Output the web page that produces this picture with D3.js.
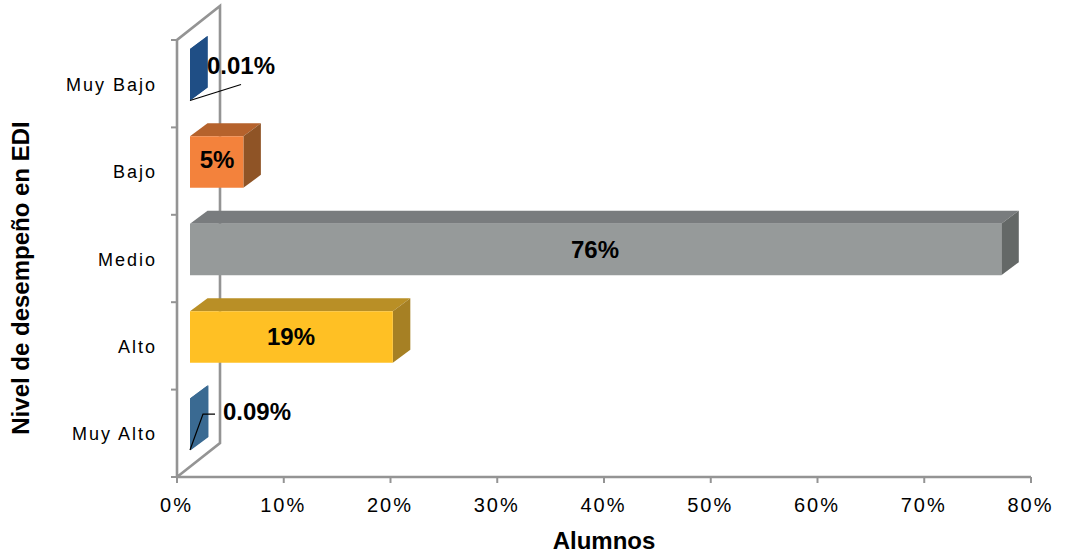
<!DOCTYPE html>
<html><head><meta charset="utf-8">
<script src="https://d3js.org/d3.v7.min.js"></script>
<style>html,body{margin:0;padding:0;background:#fff}svg{display:block}text{font-family:"Liberation Sans",Arial,sans-serif;fill:#000}</style>
</head><body><svg width="1065" height="556"></svg>
<script>
const categories=["Muy Bajo","Bajo","Medio","Alto","Muy Alto"];
const values=[0.01,5,76,19,0.09];
const valueLabels=["0.01%","5%","76%","19%","0.09%"];
const frontColors=["#1f4e85","#f3823c","#969a9a","#ffc024","#3a6a92"];
const topColors=["#1f4e85","#b5622c","#797c7e","#b98f26","#3a6a92"];
const sideColors=["#1f4e85","#8f5426","#646867","#a68024","#3a6a92"];
const xTicks=[0,10,20,30,40,50,60,70,80];
const axisTitleX="Alumnos", axisTitleY="Nivel de desempeño en EDI";

const svg=d3.select("svg");
const x=d3.scaleLinear().domain([0,80]).range([177,1031]);
const stepY=d3.scaleBand().domain(categories).range([40,477]);
const barH=51.5,floorDx=43,floorDy=-34,barDx=13,depthX=17.5,depthY=-13,barShift=-9;
const gray="#949494";
const line=(pts,c,w)=>svg.append("path").attr("d",d3.line()(pts)).attr("fill","none").attr("stroke",c).attr("stroke-width",w);
line([[x(0),477],[x(0),40],[x(0)+floorDx,40+floorDy],[x(0)+floorDx,477+floorDy],[x(0),477]],gray,2.6);
line([[x(0),477],[x(80),477]],gray,2.6);
categories.forEach(c=>line([[171,stepY(c)],[x(0),stepY(c)]],gray,2));
line([[171,477],[x(0),477]],gray,2);
xTicks.forEach(t=>{line([[x(t),477],[x(t),483]],gray,2);
 svg.append("text").attr("x",x(t)-0.5).attr("y",512).attr("text-anchor","middle").attr("font-size",20).attr("letter-spacing",2).text(t+"%");});
categories.forEach(c=>svg.append("text").attr("x",157).attr("y",stepY(c)+stepY.bandwidth()/2+7).attr("text-anchor","end").attr("font-size",18).attr("letter-spacing",2).text(c));
const poly=(pts,c)=>svg.append("polygon").attr("points",pts.join(" ")).attr("fill",c);
const barTop=c=>stepY(c)+stepY.step()/2-barH/2+barShift;
categories.forEach((c,i)=>{
 const x0=x(0)+barDx,x1=x(values[i])+barDx,t=barTop(c),b=t+barH;
 poly([[x0,t],[x0+depthX,t+depthY],[x1+depthX,t+depthY],[x1,t]],topColors[i]);
 poly([[x1,t],[x1+depthX,t+depthY],[x1+depthX,b+depthY],[x1,b]],sideColors[i]);
 poly([[x0,t],[x1,t],[x1,b],[x0,b]],frontColors[i]);
 if(values[i]<1) poly([[x0,t],[x0+depthX,t+depthY],[x0+depthX,b+depthY],[x0,b]],frontColors[i]);
});
const by=c=>barTop(c)+barH;
line([[x(0)+barDx,by("Muy Bajo")],[x(0)+barDx+51,by("Muy Bajo")-16]],"#000",1.2);
line([[x(0)+barDx,by("Muy Alto")],[x(0)+barDx+13,by("Muy Alto")-36],[x(0)+barDx+25,by("Muy Alto")-36]],"#000",1.2);
const labelX=[241,217,595,291,257];
const labelY=[74,168,258,345,420];
categories.forEach((c,i)=>svg.append("text").attr("x",labelX[i]).attr("y",labelY[i]).attr("text-anchor","middle").attr("font-size",24).attr("font-weight","bold").text(valueLabels[i]));
svg.append("text").attr("x",604).attr("y",549).attr("text-anchor","middle").attr("font-size",24).attr("font-weight","bold").text(axisTitleX);
svg.append("text").attr("transform","translate(29,278) rotate(-90)").attr("text-anchor","middle").attr("font-size",24).attr("font-weight","bold").text(axisTitleY);
</script></body></html>
